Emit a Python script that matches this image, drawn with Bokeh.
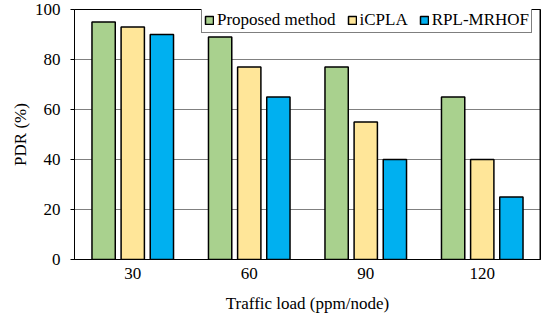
from bokeh.plotting import figure
from bokeh.models import ColumnDataSource, Legend, LegendItem, Span, BoxAnnotation
from bokeh.transform import dodge
from bokeh.embed import file_html
from bokeh.resources import INLINE

loads = ["30", "60", "90", "120"]
proposed = [95, 89, 77, 65]
icpla = [93, 77, 55, 40]
rpl_mrhof = [90, 65, 40, 25]
series_names = ["Proposed method", "iCPLA", "RPL-MRHOF"]
colors = ["#A9D18E", "#FFE699", "#00B0F0"]
y_ticks = [0, 20, 40, 60, 80, 100]

src = ColumnDataSource(dict(x=loads, a=proposed, b=icpla, c=rpl_mrhof))

FONT = "Liberation Serif"
p = figure(x_range=loads, y_range=(0, 100), width=548, height=315,
           output_backend="svg", toolbar_location=None,
           min_border_left=74, min_border_right=8, min_border_top=9, min_border_bottom=56)
p.x_range.range_padding = 0

renderers = []
for key, off, col in zip(["a", "b", "c"], [-0.25, 0, 0.25], colors):
    r = p.vbar(x=dodge("x", off, range=p.x_range), top=key, width=0.2, source=src,
               fill_color=col, line_color="black", line_width=1.5)
    renderers.append(r)

# frame top and right edges
p.add_layout(Span(location=100, dimension="width", line_color="black", line_width=1))
p.add_layout(Span(location=len(loads) - 0.002, dimension="height", line_color="black", line_width=1.5))

# light page-edge rule at the far left
p.add_layout(BoxAnnotation(left=11.5, right=12.5, top=0, bottom=315,
                           left_units="canvas", right_units="canvas",
                           top_units="canvas", bottom_units="canvas",
                           fill_color="#c8c8c8", fill_alpha=1, line_color=None))

legend = Legend(items=[LegendItem(label=n, renderers=[r]) for n, r in zip(series_names, renderers)],
                orientation="horizontal", location=(127, 226))
legend.label_text_font = FONT
legend.label_text_font_size = "17px"
legend.label_text_color = "black"
legend.glyph_width = 10
legend.glyph_height = 10
legend.label_height = 14
legend.label_standoff = 3
legend.spacing = 11
legend.padding = 2
legend.margin = 0
legend.border_line_color = "black"
legend.border_line_width = 1
legend.background_fill_alpha = 1
p.add_layout(legend)

p.yaxis.ticker = y_ticks
p.xgrid.grid_line_color = None
p.ygrid.grid_line_color = "black"
p.ygrid.grid_line_dash = "1 1"
p.ygrid.grid_line_width = 1
p.outline_line_color = "black"
p.outline_line_width = 1

for ax in (p.xaxis, p.yaxis):
    ax.axis_line_color = "black"
    ax.major_label_text_font = FONT
    ax.major_label_text_font_size = "17px"
    ax.major_label_text_color = "black"
    ax.axis_label_text_font = FONT
    ax.axis_label_text_font_size = "17px"
    ax.axis_label_text_font_style = "normal"
    ax.axis_label_text_color = "black"
    ax.minor_tick_line_color = None

p.xaxis.major_tick_line_color = None
p.xaxis.major_tick_out = 0
p.xaxis.major_label_standoff = 8
p.xaxis.axis_label = "Traffic load (ppm/node)"
p.xaxis.axis_label_standoff = 12
p.yaxis.major_tick_in = 0
p.yaxis.major_tick_out = 4
p.yaxis.major_tick_line_color = "black"
p.yaxis.major_label_standoff = 10
p.yaxis.axis_label = "PDR (%)"
p.yaxis.axis_label_standoff = 2

open("out.html", "w").write(file_html(p, INLINE))
